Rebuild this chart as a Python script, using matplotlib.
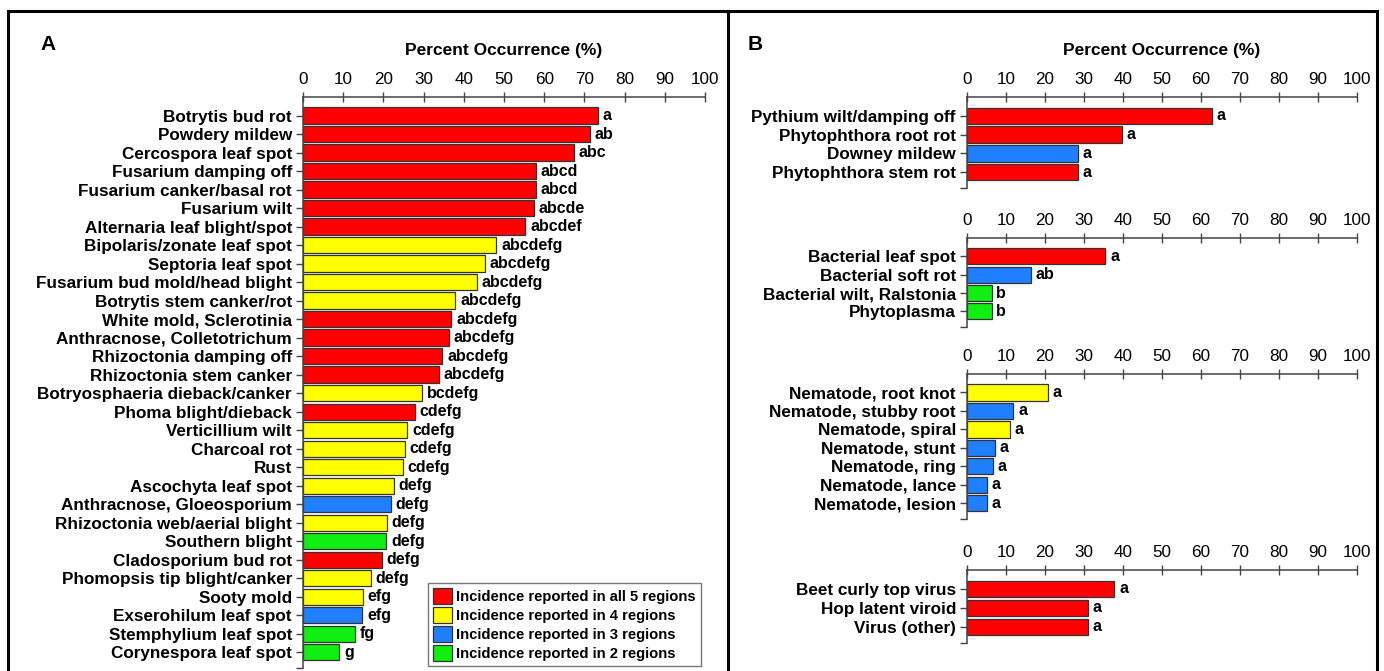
import matplotlib
matplotlib.use('Agg')
import matplotlib.pyplot as plt
from matplotlib.patches import Patch
from matplotlib.lines import Line2D

plt.rcParams['font.family'] = ['Liberation Sans', 'DejaVu Sans']

# ---------------- data ----------------
cats_a = ["Botrytis bud rot", "Powdery mildew", "Cercospora leaf spot", "Fusarium damping off",
          "Fusarium canker/basal rot", "Fusarium wilt", "Alternaria leaf blight/spot",
          "Bipolaris/zonate leaf spot", "Septoria leaf spot", "Fusarium bud mold/head blight",
          "Botrytis stem canker/rot", "White mold, Sclerotinia", "Anthracnose, Colletotrichum",
          "Rhizoctonia damping off", "Rhizoctonia stem canker", "Botryosphaeria dieback/canker",
          "Phoma blight/dieback", "Verticillium wilt", "Charcoal rot", "Rust", "Ascochyta leaf spot",
          "Anthracnose, Gloeosporium", "Rhizoctonia web/aerial blight", "Southern blight",
          "Cladosporium bud rot", "Phomopsis tip blight/canker", "Sooty mold", "Exserohilum leaf spot",
          "Stemphylium leaf spot", "Corynespora leaf spot"]
vals_a = [73.4, 71.4, 67.3, 57.9, 57.9, 57.4, 55.3, 48.1, 45.3, 43.2, 37.9, 36.9, 36.2, 34.7, 33.8,
          29.7, 27.8, 25.9, 25.3, 24.8, 22.6, 21.9, 20.9, 20.7, 19.6, 16.8, 14.9, 14.8, 13.0, 9.0]
regions_a = [5, 5, 5, 5, 5, 5, 5, 4, 4, 4, 4, 5, 5, 5, 5, 4, 5, 4, 4, 4, 4, 3, 4, 2, 5, 4, 4, 3, 2, 2]
letters_a = ["a", "ab", "abc", "abcd", "abcd", "abcde", "abcdef", "abcdefg", "abcdefg", "abcdefg",
             "abcdefg", "abcdefg", "abcdefg", "abcdefg", "abcdefg", "bcdefg", "cdefg", "cdefg",
             "cdefg", "cdefg", "defg", "defg", "defg", "defg", "defg", "defg", "efg", "efg", "fg", "g"]

cats_b1 = ["Pythium wilt/damping off", "Phytophthora root rot", "Downey mildew", "Phytophthora stem rot"]
vals_b1 = [62.9, 39.7, 28.5, 28.5]
regions_b1 = [5, 5, 3, 5]
letters_b1 = ["a", "a", "a", "a"]

cats_b2 = ["Bacterial leaf spot", "Bacterial soft rot", "Bacterial wilt, Ralstonia", "Phytoplasma"]
vals_b2 = [35.5, 16.3, 6.3, 6.3]
regions_b2 = [5, 3, 2, 2]
letters_b2 = ["a", "ab", "b", "b"]

cats_b3 = ["Nematode, root knot", "Nematode, stubby root", "Nematode, spiral", "Nematode, stunt",
           "Nematode, ring", "Nematode, lance", "Nematode, lesion"]
vals_b3 = [20.7, 11.9, 11.0, 7.2, 6.7, 5.2, 5.2]
regions_b3 = [4, 3, 4, 3, 3, 3, 3]
letters_b3 = ["a"] * 7

cats_b4 = ["Beet curly top virus", "Hop latent viroid", "Virus (other)"]
vals_b4 = [37.8, 31.0, 31.0]
regions_b4 = [5, 5, 5]
letters_b4 = ["a", "a", "a"]

legend_regions = [5, 4, 3, 2]
legend_labels = ["Incidence reported in all 5 regions", "Incidence reported in 4 regions",
                 "Incidence reported in 3 regions", "Incidence reported in 2 regions"]

# ---------------- style ----------------
colors = {5: '#ff0000', 4: '#ffff00', 3: '#1f7fff', 2: '#11ee11'}
W, H = 1384, 671
fig = plt.figure(figsize=(W / 100, H / 100), dpi=100)
AXC = '#444444'


def add_ax(x0, x1, y0, y1):
    return fig.add_axes([x0 / W, 1 - y1 / H, (x1 - x0) / W, (y1 - y0) / H])


def draw(ax, cats, vals, regs, letters):
    n = len(cats)
    y = list(range(n))
    ax.barh(y, vals, height=0.88, color=[colors[r] for r in regs],
            edgecolor='#333333', linewidth=0.9)
    ax.set_xlim(0, 100)
    bottom = n - 1 + 0.85
    ax.set_ylim(bottom, -1)
    ax.set_yticks(y)
    ax.set_yticklabels(cats, fontsize=12.3, fontweight='bold')
    ax.set_yticks([bottom], minor=True)
    ax.xaxis.tick_top()
    ax.set_xticks(range(0, 101, 10))
    ax.tick_params(axis='x', direction='inout', length=7, width=1, pad=4,
                   labelsize=12.3, color=AXC)
    ax.tick_params(axis='y', which='both', direction='out', length=5, width=1, pad=3, color=AXC)
    for s in ['right', 'bottom']:
        ax.spines[s].set_visible(False)
    for s in ['top', 'left']:
        ax.spines[s].set_color(AXC)
        ax.spines[s].set_linewidth(1.1)
    for yi, v, l in zip(y, vals, letters):
        ax.text(v + 1.2, yi, l, va='center', ha='left', fontsize=11.5, fontweight='bold')
    ax.patch.set_alpha(0)


# Panel A
axA = add_ax(303, 705, 97, 668)
draw(axA, cats_a, vals_a, regions_a, letters_a)
handles = [Patch(facecolor=colors[r], edgecolor='#333333', linewidth=0.9) for r in legend_regions]
leg = axA.legend(handles, legend_labels, loc='lower right',
                 bbox_to_anchor=(701 / W, 1 - 666 / H), bbox_transform=fig.transFigure,
                 prop={'weight': 'bold', 'size': 10.6}, frameon=True, fancybox=False,
                 edgecolor='#555555', handlelength=1.25, handleheight=1.25, handletextpad=0.3,
                 labelspacing=0.22, borderpad=0.35, borderaxespad=0)
leg.get_frame().set_linewidth(1.0)

# Panel B
axB1 = add_ax(967, 1357, 97, 188)
draw(axB1, cats_b1, vals_b1, regions_b1, letters_b1)
axB2 = add_ax(967, 1357, 238, 327)
draw(axB2, cats_b2, vals_b2, regions_b2, letters_b2)
axB3 = add_ax(967, 1357, 374, 519)
draw(axB3, cats_b3, vals_b3, regions_b3, letters_b3)
axB4 = add_ax(967, 1357, 570, 643)
draw(axB4, cats_b4, vals_b4, regions_b4, letters_b4)

# Titles and panel letters
fig.text(504 / W, 1 - 50 / H, "Percent Occurrence (%)", ha='center', va='center',
         fontsize=12.5, fontweight='bold')
fig.text(1162 / W, 1 - 50 / H, "Percent Occurrence (%)", ha='center', va='center',
         fontsize=12.5, fontweight='bold')
fig.text(40 / W, 1 - 44 / H, "A", ha='left', va='center', fontsize=15, fontweight='bold')
fig.text(748 / W, 1 - 44 / H, "B", ha='left', va='center', fontsize=15, fontweight='bold')

# Frame
def fline(xs, ys, lw=2.2):
    fig.add_artist(Line2D([x / W for x in xs], [1 - y / H for y in ys], color='black', lw=lw))

fline([8, 1377], [11, 11])
fline([8, 8], [11, 672])
fline([1377, 1377], [11, 672])
fline([728, 728], [11, 672])

fig.savefig('out.png', dpi=100)
